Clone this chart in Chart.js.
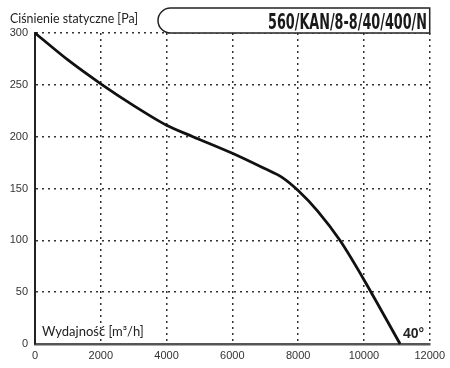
<!DOCTYPE html>
<html>
<head>
<meta charset="utf-8">
<script src="https://cdn.jsdelivr.net/npm/chart.js@4.4.0/dist/chart.umd.min.js"></script>
<style>
    body { margin: 0; background: #fff; }
    #wrap { width: 450px; height: 368px; }
</style>
</head>
<body>
<div id="wrap"><canvas id="fanChart" width="450" height="368"></canvas></div>
<script>
// curve: flow [m3/h] vs static pressure [Pa]
const flow = [0, 1000, 2000, 3000, 4000, 4800, 6000, 7000, 7500, 8000, 8600, 9270, 10000, 11100];
const pressure = [300, 274, 251, 230, 211, 200, 184, 169, 161, 148, 128, 100, 62, 0];

const xTicks = [0, 2000, 4000, 6000, 8000, 10000, 12000];
const yTicks = [0, 50, 100, 150, 200, 250, 300];

const title = 'Ciśnienie statyczne [Pa]';
const modelName = '560/KAN/8-8/40/400/N';
const xTitle = 'Wydajność [m³/h]';
const angleLabel = '40°';

const points = flow.map((f, i) => ({ x: f, y: pressure[i] }));

const decorations = {
    id: 'decorations',
    afterDraw(chart) {
        const ctx = chart.ctx;
        const area = chart.chartArea;
        ctx.save();

        // rounded box with the model name
        ctx.beginPath();
        ctx.moveTo(area.right, 8);
        ctx.lineTo(170.5, 8);
        ctx.arc(170.5, 20.5, 12.5, -Math.PI / 2, Math.PI / 2, true);
        ctx.lineTo(area.right, 33);
        ctx.closePath();
        ctx.fillStyle = '#fff';
        ctx.fill();
        ctx.lineWidth = 1.5;
        ctx.strokeStyle = '#222';
        ctx.stroke();

        ctx.fillStyle = '#1a1a1a';
        ctx.textBaseline = 'alphabetic';
        ctx.textAlign = 'right';
        ctx.font = 'bold 21px "DejaVu Sans Condensed", "DejaVu Sans"';
        ctx.fillText(modelName, 427, 29, 159);

        ctx.textAlign = 'left';
        ctx.font = '13px Lato, "Noto Sans"';
        ctx.fillStyle = '#222';
        ctx.fillText(title, 10, 23, 128);

        ctx.font = '13px Lato, "Noto Sans"';
        ctx.fillText(xTitle, 42, 336, 102);

        ctx.font = 'bold 14px "Liberation Sans", Arial';
        ctx.fillText(angleLabel, 403, 338);

        ctx.restore();
    }
};

new Chart(document.getElementById('fanChart'), {
    type: 'scatter',
    data: {
        datasets: [{
            data: points,
            showLine: true,
            borderColor: '#111',
            borderWidth: 2.8,
            pointRadius: 0,
            tension: 0.3,
            clip: false
        }]
    },
    options: {
        responsive: false,
        animation: false,
        layout: { padding: { top: 33, right: 18, left: 0, bottom: 0 } },
        plugins: { legend: { display: false }, tooltip: { enabled: false } },
        scales: {
            x: {
                type: 'linear',
                min: 0,
                max: 12000,
                afterBuildTicks: axis => { axis.ticks = xTicks.map(v => ({ value: v })); },
                afterFit: axis => { axis.height = 24; },
                ticks: {
                    color: '#333',
                    font: { family: '"Liberation Sans", Arial', size: 11 },
                    padding: 5,
                    maxRotation: 0,
                    callback: v => String(v)
                },
                grid: {
                    drawTicks: false,
                    color: ctx => ctx.tick && ctx.tick.value === 0 ? 'rgba(0,0,0,0)' : '#333',
                    lineWidth: 1.5
                },
                border: { display: true, color: '#555', width: 2.5, dash: [2, 4] }
            },
            y: {
                type: 'linear',
                min: 0,
                max: 300,
                afterBuildTicks: axis => { axis.ticks = yTicks.map(v => ({ value: v })); },
                afterFit: axis => { axis.width = 35; },
                ticks: {
                    color: '#333',
                    font: { family: '"Liberation Sans", Arial', size: 11 },
                    padding: 7,
                    callback: v => String(v)
                },
                grid: {
                    drawTicks: false,
                    color: ctx => ctx.tick && ctx.tick.value === 0 ? 'rgba(0,0,0,0)' : '#333',
                    lineWidth: 1.5
                },
                border: { display: true, color: '#222', width: 2, dash: [2, 4] }
            }
        }
    },
    plugins: [decorations]
});
</script>
</body>
</html>
